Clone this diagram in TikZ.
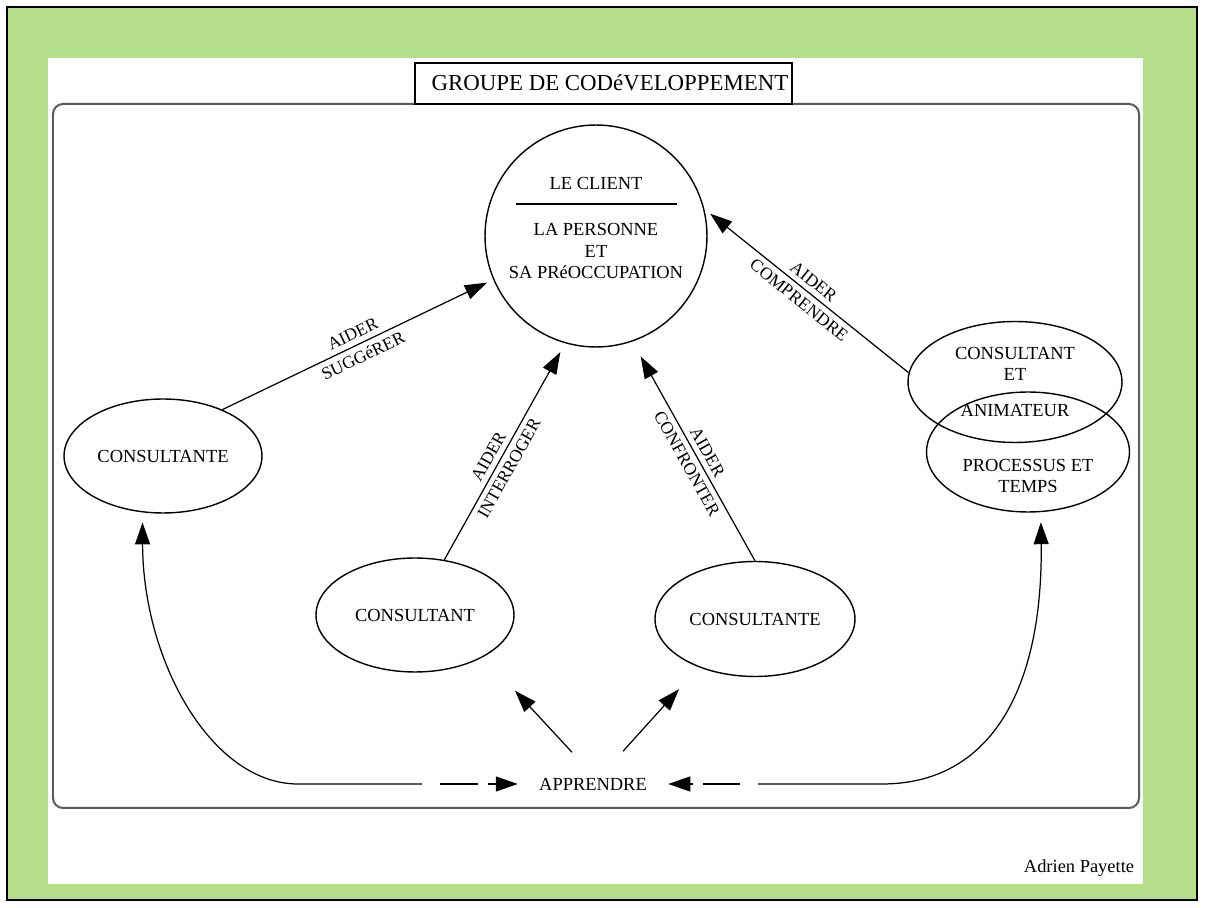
\documentclass[tikz,border=0pt]{standalone}
\usepackage{fontspec}
\setmainfont{Liberation Serif}
\usetikzlibrary{shapes.geometric,arrows.meta,calc}
\definecolor{framegreen}{RGB}{181,222,139}
\definecolor{boxgray}{RGB}{90,90,90}

\begin{document}
\begin{tikzpicture}[x=0.02cm, y=-0.02cm,
  txt/.style={font=\fontsize{10.5pt}{12.4pt}\selectfont, align=center, inner sep=0pt},
  ell/.style={ellipse, draw, line width=0.8pt, inner sep=0pt, font=\fontsize{10.5pt}{12.4pt}\selectfont, align=center},
  tip/.style={line width=0.7pt},
  arr/.style={tip, -{Triangle[length=0.44cm,width=0.3cm]}},
  lbl/.style={midway, sloped, font=\fontsize{10pt}{12pt}\selectfont, inner sep=3pt}]
% Set the page, the frame and the box
\useasboundingbox (0,0) rectangle (1205,908);
\fill[white] (0,0) rectangle (1205,908);
\draw[line width=0.05cm, fill=framegreen] (7,7) rectangle (1197,900);
\fill[white] (48,58) rectangle (1143,884);
\draw[boxgray, line width=0.04cm, rounded corners=0.2cm] (53,104) rectangle (1139,808);

% Title
\draw[line width=0.7pt, fill=white] (415,63) rectangle (792,104);
\node[font=\fontsize{13pt}{15pt}\selectfont] (title) at (610,83) {GROUPE DE CODéVELOPPEMENT};

% The client in the middle
\node[circle, draw, line width=0.8pt, minimum size=4.44cm] (client) at (596,236) {};
\node[txt] (lecl) at (596,183) {LE CLIENT};
\draw[line width=0.7pt] (516,204) -- (677,204);
\node[txt] (pers) at (596,251) {LA PERSONNE\\ET\\SA PRéOCCUPATION};

% Consultants and animator
\node[ell, minimum width=3.96cm, minimum height=2.28cm] (cl) at (163,456) {CONSULTANTE};
\node[ell, minimum width=3.96cm, minimum height=2.28cm] (cbl) at (415,615) {CONSULTANT};
\node[ell, minimum width=4cm, minimum height=2.3cm] (cbr) at (755,619) {CONSULTANTE};
\node[ell, minimum width=4.06cm, minimum height=2.4cm] (proc) at (1028,452) {};
\node[ell, minimum width=4.28cm, minimum height=2.42cm] (anim) at (1015,382) {};
\node[txt] (animt) at (1015,382) {CONSULTANT\\ET\\[8pt]ANIMATEUR};
\node[txt] (proct) at (1028,476) {PROCESSUS ET\\TEMPS};

% Arrows towards the client
\draw[arr, shorten >=0.14cm] (cl.38) -- (client.203)
  node[lbl, above] {AIDER} node[lbl, below] {SUGGéRER};
\draw[arr, shorten >=0.2cm] (cbl.62) -- (client.254)
  node[lbl, above, pos=0.45] {AIDER} node[lbl, below, pos=0.45] {INTERROGER};
\draw[arr, shorten >=0.34cm] (cbr.north) -- (client.289)
  node[lbl, above, pos=0.47] {AIDER} node[lbl, below, pos=0.47] {CONFRONTER};
\draw[arr, shorten >=0.15cm] (anim.175) -- (client.14)
  node[lbl, above] {AIDER} node[lbl, below] {COMPRENDRE};

% Apprendre
\node[txt, inner xsep=12pt, inner ysep=3pt] (appr) at (593,784) {APPRENDRE};
\draw[arr] ($(appr.north)+(-21,-20)$) -- ($(cbl.south)+(100,18)$);
\draw[arr] ($(appr.north)+(30,-21)$) -- ($(cbr.south)+(-76,12)$);

\coordinate (lgap) at (422,784);
\draw[tip, {Triangle[length=0.44cm,width=0.3cm]}-, shorten <=0.2cm] (cl.250)
  .. controls (143,662) and (212,784) .. (298,784) -- (lgap);
\draw[arr, dash pattern=on 0.76cm off 0.2cm] ($(lgap)+(18,0)$) -- (appr.west);

\coordinate (rgap) at (758,784);
\draw[tip, -{Triangle[length=0.44cm,width=0.3cm]}, shorten >=0.2cm] (rgap) -- (882,784)
  .. controls (990,784) and (1043,690) .. (proc.282);
\draw[arr, dash pattern=on 0.74cm off 0.2cm] ($(rgap)+(-18,0)$) -- (appr.east);

\node[font=\fontsize{10.5pt}{12pt}\selectfont] (auth) at (1079,868) {Adrien Payette};
\end{tikzpicture}
\end{document}
